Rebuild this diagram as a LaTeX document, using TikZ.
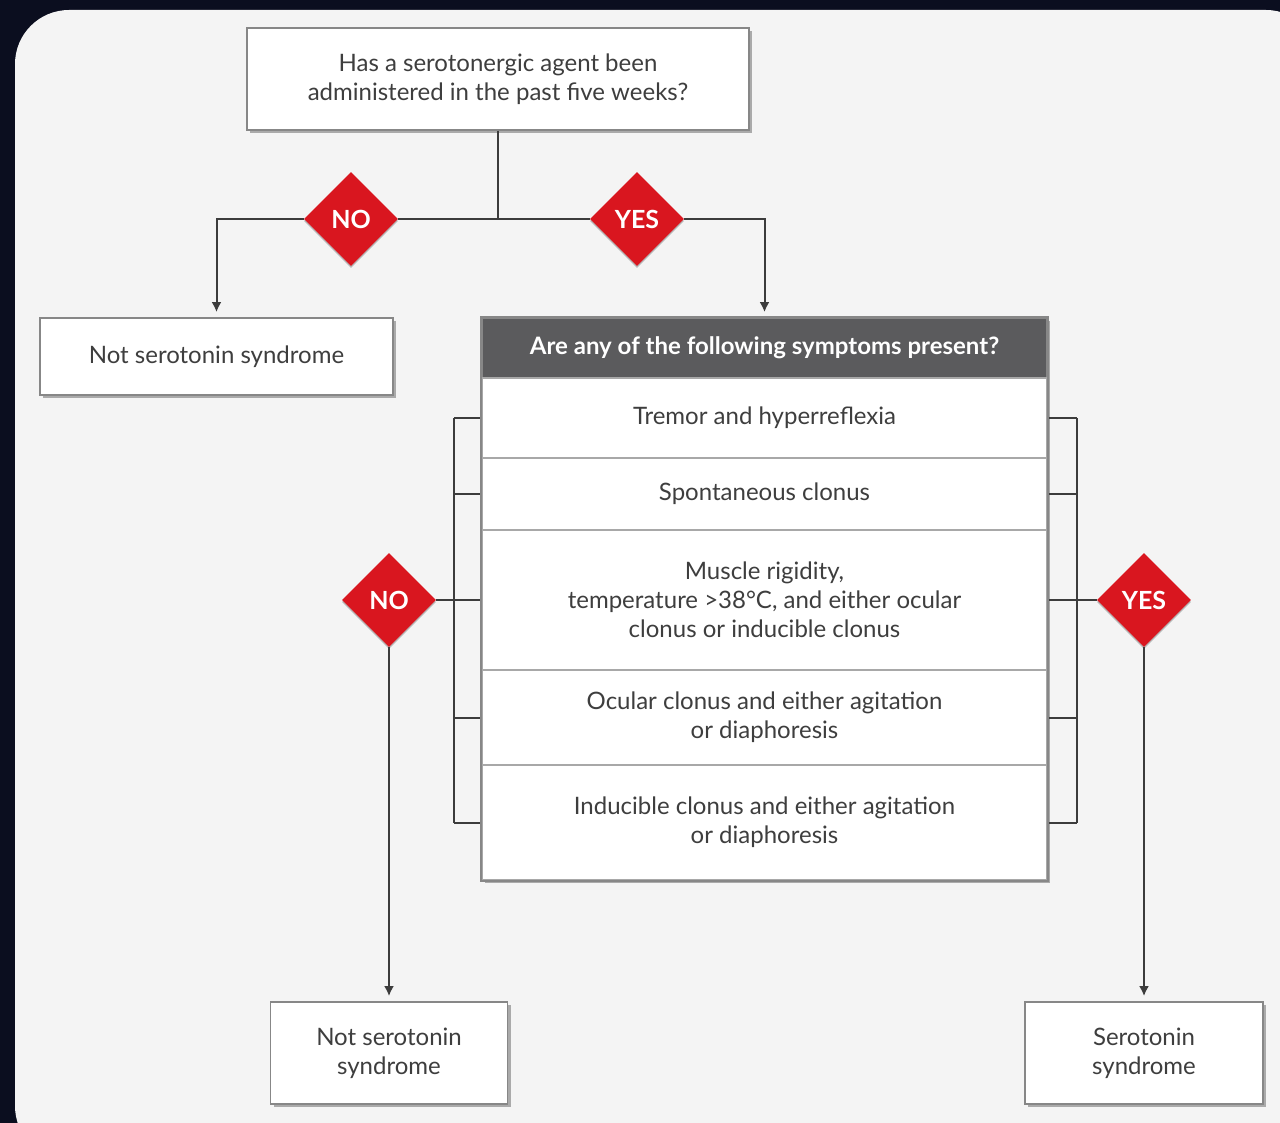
\documentclass[tikz,border=0pt]{standalone}
\usepackage{fontspec}
\setmainfont{Lato}
\usetikzlibrary{positioning,shapes.geometric,arrows.meta,shadows}
\definecolor{night}{HTML}{0B0E1F}
\definecolor{panel}{HTML}{F4F4F4}
\definecolor{frame}{HTML}{878787}
\definecolor{rule}{HTML}{A8A8A8}
\definecolor{wire}{HTML}{3C3C3C}
\definecolor{ink}{HTML}{3E3E3E}
\definecolor{alarm}{HTML}{D9161F}
\definecolor{headgrey}{HTML}{5B5B5D}

\begin{document}
\begin{tikzpicture}[x=0.5pt,y=-0.5pt,
  box/.style={draw=frame, line width=0.9pt, fill=white, text=ink, align=center, inner sep=0pt,
    font=\fontsize{12}{14.5}\selectfont,
    drop shadow={shadow xshift=1.6pt, shadow yshift=-1.6pt, opacity=0.3, fill=black}},
  symrow/.style={draw=rule, line width=0.7pt, fill=white, text=ink, align=center, inner sep=0pt,
    minimum width=282.5pt, font=\fontsize{12}{14.5}\selectfont},
  decide/.style={diamond, aspect=1, fill=alarm, text=white, inner sep=0pt, minimum width=47pt, minimum height=47pt,
    font=\bfseries\fontsize{12.5}{12.5}\selectfont,
    drop shadow={shadow xshift=0pt, shadow yshift=-1pt, opacity=0.25, fill=black}},
  wire/.style={draw=wire, line width=1pt},
  arrow/.style={wire, -{Latex[length=5pt,width=5pt]}, shorten >=2.5pt}
]

\newcommand{\decision}[3]%
{   \node[decide] (#1) at (#2) {#3};
}

\clip (0,0) rectangle (1280,1123);
\fill[night] (0,0) rectangle (1280,1123);% Screen
\fill[panel, rounded corners=27pt] (15,10) rectangle (1320,1160);% Slide panel

\node[box, minimum width=251pt, minimum height=51pt] (agentQ) at (498,79)
  {Has a serotonergic agent been\\administered in the past five weeks?};

\decision{noA}{351,219}{NO}
\decision{yesA}{637,219}{YES}

\node[box, minimum width=176.5pt, minimum height=38.5pt] (notSSA) at (216.5,356.5) {Not serotonin syndrome};

% symptom table
\node[box, draw=frame, minimum width=282.5pt, minimum height=281pt] (symTable) at (764.5,599) {};
\node[draw=frame, line width=0.9pt, fill=headgrey, text=white, inner sep=0pt, minimum width=282.5pt, minimum height=30pt,
  font=\bfseries\fontsize{12}{14.5}\selectfont] (head) at (764.5,348) {Are any of the following symptoms present?};

\foreach \i/\ymid/\h/\txt in {1/418/40/{Tremor and hyperreflexia},
                              2/494/36/{Spontaneous clonus},
                              3/600/70/{Muscle rigidity,\\temperature >38°C, and either ocular\\clonus or inducible clonus},
                              4/717.5/47.5/{Ocular clonus and either agitation\\or diaphoresis},
                              5/822.5/57.5/{Inducible clonus and either agitation\\or diaphoresis}}{
	\node[symrow, minimum height=\h pt] (row\i) at (764.5,\ymid) {\txt};
	\path (row\i.west) ++(-27,0) coordinate (lt\i);
	\path (row\i.east) ++(29,0) coordinate (rt\i);
	\draw[wire] (row\i.west) -- (lt\i);% left tick
	\draw[wire] (row\i.east) -- (rt\i);% right tick
}
\draw[frame, line width=0.9pt] (symTable.north west) rectangle (symTable.south east);

\draw[wire] (lt1) -- (lt5);
\draw[wire] (rt1) -- (rt5);

\decision{noB}{389,600}{NO}
\decision{yesB}{1144,600}{YES}

\node[box, minimum width=118.5pt, minimum height=51pt] (notSSB) at (389,1053) {Not serotonin\\syndrome};
\node[box, minimum width=119pt, minimum height=51pt] (ssBox) at (1144,1053) {Serotonin\\syndrome};

% connectors
\coordinate (split) at (agentQ.south |- noA);
\draw[wire] (agentQ.south) -- (split);
\draw[wire] (noA.east) -- (yesA.west);
\draw[arrow] (noA.west) -| (notSSA.north);
\draw[arrow] (yesA.east) -| (head.north);
\draw[wire] (lt3) -- (noB.east);
\draw[wire] (rt3) -- (yesB.west);
\draw[arrow] (noB.south) -- (notSSB.north);
\draw[arrow] (yesB.south) -- (ssBox.north);

\end{tikzpicture}
\end{document}
